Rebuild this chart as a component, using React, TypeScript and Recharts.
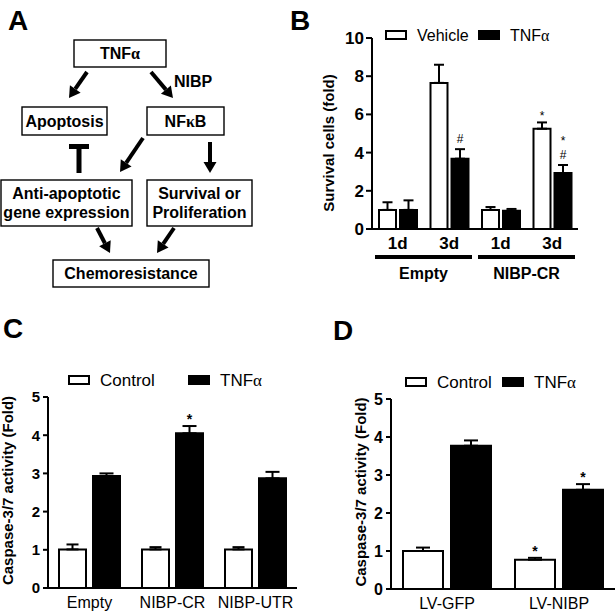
import React from 'react';
import { BarChart, Bar, XAxis, YAxis, ErrorBar, LabelList } from 'recharts';

const FONT = '"Liberation Sans", Arial, sans-serif';
const GREEK = '"Liberation Serif", "DejaVu Serif", serif';

// B: survival cells
const survivalDays = ['1d', '3d', '1d', '3d'];
const survivalGroups = ['Empty', 'Empty', 'NIBP-CR', 'NIBP-CR'];
const survivalVehicle = [1.0, 7.65, 1.0, 5.25];
const survivalVehicleErr = [0.4, 0.95, 0.15, 0.33];
const survivalTnf = [1.0, 3.68, 0.95, 2.93];
const survivalTnfErr = [0.5, 0.5, 0.1, 0.42];
const survivalVehicleMarks = ['', '', '', '*'];
const survivalTnfMarks = ['', '#', '', '*|#'];
const survivalTicks = [0, 2, 4, 6, 8, 10];

// C: caspase-3/7, transfected constructs
const caspaseConstructs = ['Empty', 'NIBP-CR', 'NIBP-UTR'];
const caspaseControl = [1.01, 1.01, 1.01];
const caspaseControlErr = [0.13, 0.06, 0.06];
const caspaseTnf = [2.93, 4.05, 2.87];
const caspaseTnfErr = [0.07, 0.19, 0.17];
const caspaseControlMarks = ['', '', ''];
const caspaseTnfMarks = ['', '*', ''];

// D: caspase-3/7, lentivirus
const lentiConstructs = ['LV-GFP', 'LV-NIBP'];
const lentiControl = [1.0, 0.77];
const lentiControlErr = [0.09, 0.05];
const lentiTnf = [3.77, 2.61];
const lentiTnfErr = [0.14, 0.15];
const lentiControlMarks = ['', '*'];
const lentiTnfMarks = ['', '*'];

const caspaseTicks = [0, 1, 2, 3, 4, 5];

const survivalData = survivalDays.map((day, i) => ({
  day,
  group: survivalGroups[i],
  a: survivalVehicle[i],
  aErr: [0, survivalVehicleErr[i]],
  aMark: survivalVehicleMarks[i],
  b: survivalTnf[i],
  bErr: [0, survivalTnfErr[i]],
  bMark: survivalTnfMarks[i],
}));

const caspaseData = caspaseConstructs.map((name, i) => ({
  name,
  a: caspaseControl[i],
  aErr: [0, caspaseControlErr[i]],
  aMark: caspaseControlMarks[i],
  b: caspaseTnf[i],
  bErr: [0, caspaseTnfErr[i]],
  bMark: caspaseTnfMarks[i],
}));

const lentiData = lentiConstructs.map((name, i) => ({
  name,
  a: lentiControl[i],
  aErr: [0, lentiControlErr[i]],
  aMark: lentiControlMarks[i],
  b: lentiTnf[i],
  bErr: [0, lentiTnfErr[i]],
  bMark: lentiTnfMarks[i],
}));

// significance marks sit just above the error bar cap
const markContent =
  (vals: number[], errs: number[], fontSize: number, bold: boolean) => (props: any) => {
    const vb = props.viewBox || props;
    const x = Number(vb.x ?? props.x);
    const y = Number(vb.y ?? props.y);
    const w = Number(vb.width ?? props.width);
    const h = Number(vb.height ?? props.height);
    const i = props.index;
    const v = props.value;
    if (!v || i == null) return null;
    const capY = y - (errs[i] / vals[i]) * h;
    const lines = String(v).split('|').reverse();
    let base = capY;
    const spans = lines.map((s, k) => {
      base -= k === 0 ? (s === '#' ? 6 : 2) : 14;
      return (
        <tspan key={k} x={x + w / 2} y={base}>
          {s}
        </tspan>
      );
    });
    return (
      <text textAnchor="middle" fontSize={fontSize} fontWeight={bold ? 'bold' : 'normal'} fill="#000">
        {spans.reverse()}
      </text>
    );
  };

const yLabel = (text: string, dx: number, dy: number) => (props: any) => {
  const vb = props.viewBox;
  const cx = vb.x + dx;
  const cy = vb.y + vb.height / 2 + dy;
  return (
    <text
      transform={`translate(${cx},${cy}) rotate(-90)`}
      textAnchor="middle"
      dominantBaseline="central"
      fontSize={15}
      fontWeight="bold"
      fill="#000"
    >
      {text}
    </text>
  );
};

const GroupTick = (props: any) => {
  const { x, y, payload, width, visibleTicksCount } = props;
  const half = width / visibleTicksCount / 2 - 3;
  return (
    <g>
      <line x1={x - half} x2={x + half} y1={y} y2={y} stroke="#000" strokeWidth={4} />
      <text x={x} y={y + 22} textAnchor="middle" fontSize={16} fontWeight="bold" fill="#000">
        {payload.value}
      </text>
    </g>
  );
};

const axisLine = { stroke: '#000', strokeWidth: 2 };

const Tnf = () => (
  <>
    TNF<tspan fontFamily={GREEK}>α</tspan>
  </>
);

const Arrow = ({ from, to }: { from: number[]; to: number[] }) => {
  const [x1, y1] = from;
  const [x2, y2] = to;
  const len = Math.hypot(x2 - x1, y2 - y1);
  const ux = (x2 - x1) / len;
  const uy = (y2 - y1) / len;
  const bx = x2 - ux * 11;
  const by = y2 - uy * 11;
  const px = -uy * 6.5;
  const py = ux * 6.5;
  return (
    <g>
      <line x1={x1} y1={y1} x2={bx} y2={by} stroke="#000" strokeWidth={4} />
      <polygon points={`${x2},${y2} ${bx + px},${by + py} ${bx - px},${by - py}`} fill="#000" />
    </g>
  );
};

const Box = ({ x, y, w, h, lines }: { x: number; y: number; w: number; h: number; lines: React.ReactNode[] }) => (
  <g>
    <rect x={x} y={y} width={w} height={h} fill="#fff" stroke="#000" strokeWidth={1.4} />
    {lines.map((l, i) => (
      <text
        key={i}
        x={x + w / 2}
        y={y + h / 2 + (i - (lines.length - 1) / 2) * 19 + 5.5}
        textAnchor="middle"
        fontSize={16}
        fontWeight="bold"
        fill="#000"
      >
        {l}
      </text>
    ))}
  </g>
);

const LegendPair = ({ x, y, gap, fontSize, labels }: { x: number; y: number; gap: number; fontSize: number; labels: React.ReactNode[] }) => (
  <g fontSize={fontSize} fill="#000">
    <rect x={x + 1} y={y + 1} width={20} height={8} fill="#fff" stroke="#000" strokeWidth={2} />
    <text x={x + 32} y={y + 11}>{labels[0]}</text>
    <rect x={x + gap} y={y} width={22} height={10} fill="#000" />
    <text x={x + gap + 32} y={y + 11}>{labels[1]}</text>
  </g>
);

export default function App() {
  return (
    <div style={{ position: 'absolute', left: 0, top: 0, width: 615, height: 613, background: '#fff', fontFamily: FONT, overflow: 'hidden' }}>
      {/* B */}
      <div style={{ position: 'absolute', left: 300, top: 0 }}>
        <BarChart width={315} height={300} data={survivalData} margin={{ top: 38, right: 37, bottom: 11, left: 32 }} barGap={4} barSize={17}>
          <YAxis
            domain={[0, 10]}
            ticks={survivalTicks}
            width={40}
            axisLine={axisLine}
            tickLine={axisLine}
            tickSize={6}
            tickMargin={2}
            tick={{ fill: '#000', fontSize: 17, fontWeight: 'bold' }}
            label={yLabel('Survival cells (fold)', -4, 9.5)}
          />
          <XAxis dataKey="day" height={20} axisLine={axisLine} tickLine={false} tick={{ fill: '#000', fontSize: 17, fontWeight: 'bold' }} />
          <XAxis xAxisId="grp" dataKey="group" allowDuplicatedCategory={false} height={40} axisLine={false} tickLine={false} tick={<GroupTick />} />
          <Bar dataKey="a" fill="#fff" stroke="#000" strokeWidth={2} isAnimationActive={false}>
            <ErrorBar dataKey="aErr" width={5} stroke="#000" strokeWidth={2} direction="y" />
            <LabelList dataKey="aMark" content={markContent(survivalVehicle, survivalVehicleErr, 12, false)} />
          </Bar>
          <Bar dataKey="b" fill="#000" stroke="#000" strokeWidth={2} isAnimationActive={false}>
            <ErrorBar dataKey="bErr" width={5} stroke="#000" strokeWidth={2} direction="y" />
            <LabelList dataKey="bMark" content={markContent(survivalTnf, survivalTnfErr, 12, false)} />
          </Bar>
        </BarChart>
      </div>

      {/* C */}
      <div style={{ position: 'absolute', left: 0, top: 310 }}>
        <BarChart width={310} height={303} data={caspaseData} margin={{ top: 87, right: 13, bottom: 0, left: 18 }} barGap={7} barSize={27}>
          <YAxis
            domain={[0, 5]}
            ticks={caspaseTicks}
            width={30}
            axisLine={axisLine}
            tickLine={axisLine}
            tickSize={5}
            tickMargin={3}
            tick={{ fill: '#000', fontSize: 15, fontWeight: 'bold' }}
            label={yLabel('Caspase-3/7 activity (Fold)', -11, -2)}
          />
          <XAxis dataKey="name" height={25} axisLine={axisLine} tickLine={false} tickMargin={3} tick={{ fill: '#000', fontSize: 16 }} />
          <Bar dataKey="a" fill="#fff" stroke="#000" strokeWidth={2} isAnimationActive={false}>
            <ErrorBar dataKey="aErr" width={6} stroke="#000" strokeWidth={2} direction="y" />
            <LabelList dataKey="aMark" content={markContent(caspaseControl, caspaseControlErr, 14, true)} />
          </Bar>
          <Bar dataKey="b" fill="#000" stroke="#000" strokeWidth={2} isAnimationActive={false}>
            <ErrorBar dataKey="bErr" width={7} stroke="#000" strokeWidth={2} direction="y" />
            <LabelList dataKey="bMark" content={markContent(caspaseTnf, caspaseTnfErr, 14, true)} />
          </Bar>
        </BarChart>
      </div>

      {/* D */}
      <div style={{ position: 'absolute', left: 305, top: 310 }}>
        <BarChart width={310} height={303} data={lentiData} margin={{ top: 89, right: 0, bottom: 0, left: 56 }} barGap={8} barSize={40}>
          <YAxis
            domain={[0, 5]}
            ticks={caspaseTicks}
            width={30}
            axisLine={axisLine}
            tickLine={axisLine}
            tickSize={5}
            tickMargin={3}
            tick={{ fill: '#000', fontSize: 16, fontWeight: 'bold' }}
            label={yLabel('Caspase-3/7 activity (Fold)', -1, -2)}
          />
          <XAxis dataKey="name" height={24} axisLine={axisLine} tickLine={false} tickMargin={3} tick={{ fill: '#000', fontSize: 16 }} />
          <Bar dataKey="a" fill="#fff" stroke="#000" strokeWidth={2} isAnimationActive={false}>
            <ErrorBar dataKey="aErr" width={7} stroke="#000" strokeWidth={2} direction="y" />
            <LabelList dataKey="aMark" content={markContent(lentiControl, lentiControlErr, 14, true)} />
          </Bar>
          <Bar dataKey="b" fill="#000" stroke="#000" strokeWidth={2} isAnimationActive={false}>
            <ErrorBar dataKey="bErr" width={7} stroke="#000" strokeWidth={2} direction="y" />
            <LabelList dataKey="bMark" content={markContent(lentiTnf, lentiTnfErr, 14, true)} />
          </Bar>
        </BarChart>
      </div>

      {/* overlay: panel letters, legends, schematic A */}
      <svg width={615} height={613} style={{ position: 'absolute', left: 0, top: 0, pointerEvents: 'none' }} fontFamily={FONT}>
        <g fontSize={28} fontWeight="bold" fill="#000">
          <text x={8} y={30}>A</text>
          <text x={290} y={30}>B</text>
          <text x={3} y={338}>C</text>
          <text x={333} y={340}>D</text>
        </g>

        <LegendPair x={385} y={30} gap={93} fontSize={16} labels={['Vehicle', <Tnf key="t" />]} />
        <LegendPair x={68} y={375} gap={120} fontSize={17} labels={['Control', <Tnf key="t" />]} />
        <LegendPair x={405} y={377} gap={97} fontSize={17} labels={['Control', <Tnf key="t" />]} />

        <Box x={74} y={40} w={92} h={27} lines={[<Tnf key="t" />]} />
        <Box x={22} y={107} w={85} h={28} lines={['Apoptosis']} />
        <Box x={147} y={107} w={77} h={28} lines={[<>NF<tspan key="k" fontFamily={GREEK}>κ</tspan>B</>]} />
        <Box x={1} y={180} w={131} h={46} lines={['Anti-apoptotic', 'gene expression']} />
        <Box x={147} y={180} w={105} h={46} lines={['Survival or', 'Proliferation']} />
        <Box x={53} y={260} w={156} h={27} lines={['Chemoresistance']} />
        <text x={174} y={87} fontSize={16} fontWeight="bold" fill="#000">NIBP</text>

        <Arrow from={[87, 72]} to={[69, 98]} />
        <Arrow from={[151, 72]} to={[173, 98]} />
        <Arrow from={[143, 138]} to={[120, 172]} />
        <Arrow from={[210, 142]} to={[210, 173]} />
        <Arrow from={[97, 228]} to={[110, 253]} />
        <Arrow from={[174, 228]} to={[157, 253]} />
        <rect x={69} y={144} width={20} height={5} fill="#000" />
        <rect x={76.5} y={144} width={5} height={29} fill="#000" />
      </svg>
    </div>
  );
}
